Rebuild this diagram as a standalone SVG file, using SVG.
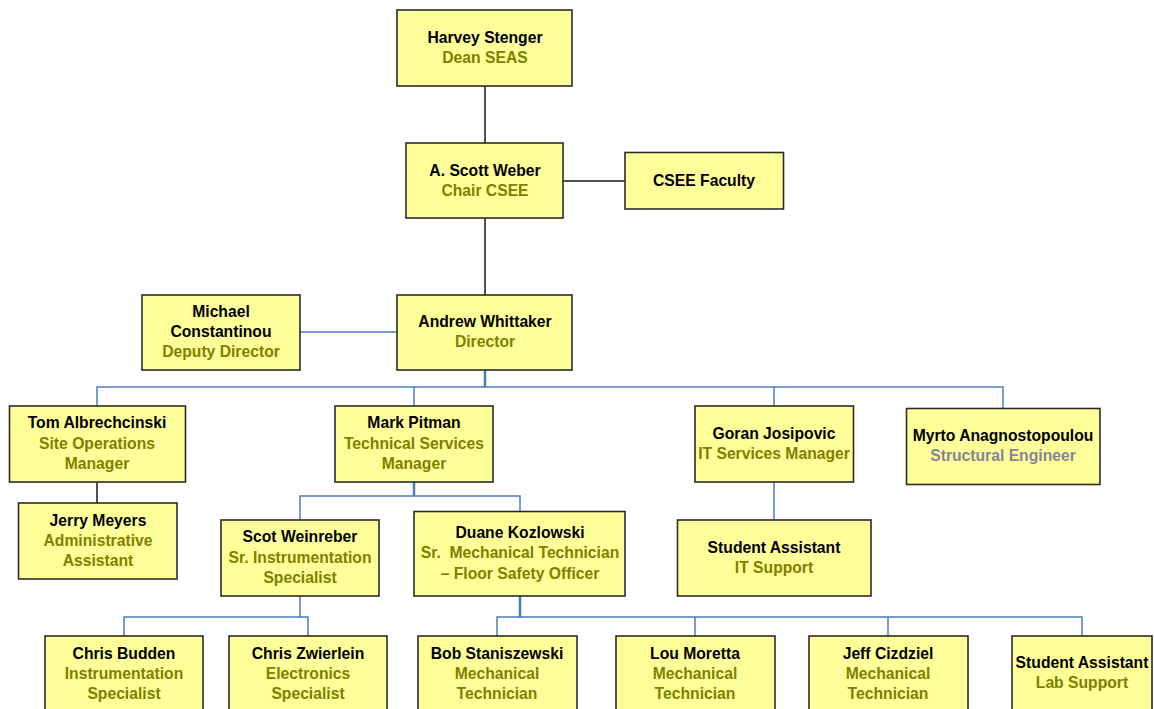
<svg xmlns="http://www.w3.org/2000/svg" width="1154" height="709" viewBox="0 0 1154 709">
<style>
.box{fill:#ffff99;stroke:#2b2b2b;stroke-width:1.6}
text{font-family:"Liberation Sans",Arial,sans-serif;font-weight:bold;font-size:15.7px;text-anchor:middle;white-space:pre}
.n{fill:#000}
.t{fill:#808000}
.g{fill:#858596}
.k{stroke:#1a1a1a;stroke-width:1.5;fill:none}
.b{stroke:#4a7ebb;stroke-width:1.5;fill:none}
.bb{stroke:#4a7ebb;stroke-width:2.5;fill:none}
</style>
<rect width="1154" height="709" fill="#fff"/>
<g id="connectors">
<path class="k" d="M485 86V143M563 181H625M485 218V295M97 482V503"/>
<path class="b" d="M300 332H397"/>
<path class="bb" d="M485 370V387"/>
<path class="b" d="M97 406V387H1003V408M414 387V406M774 387V406"/>
<path class="b" d="M774 482V520"/>
<path class="bb" d="M414 482V496"/>
<path class="b" d="M300 520V496H520V512"/>
<path class="b" d="M300 596V617M124 636V617H308V636"/>
<path class="bb" d="M520 596V617"/>
<path class="b" d="M497 636V617H1082V636M695 617V636M888 617V636"/>
</g>
<g id="harvey"><rect class="box" x="397" y="10" width="175" height="76"/><text x="485" y="43" class="n">Harvey Stenger</text><text x="485" y="63" class="t">Dean SEAS</text></g>
<g id="weber"><rect class="box" x="406" y="143" width="157" height="75"/><text x="485" y="176" class="n">A. Scott Weber</text><text x="485" y="196" class="t">Chair CSEE</text></g>
<g id="csee"><rect class="box" x="625" y="152.5" width="158.5" height="56.5"/><text x="704" y="186" class="n">CSEE Faculty</text></g>
<g id="michael"><rect class="box" x="142" y="295" width="158" height="75"/><text x="221" y="317" class="n">Michael</text><text x="221" y="337" class="n">Constantinou</text><text x="221" y="357" class="t">Deputy Director</text></g>
<g id="andrew"><rect class="box" x="397" y="295" width="175" height="75"/><text x="485" y="327" class="n">Andrew Whittaker</text><text x="485" y="347" class="t">Director</text></g>
<g id="tom"><rect class="box" x="9.5" y="406" width="176" height="76"/><text x="97" y="428" class="n">Tom Albrechcinski</text><text x="97" y="448.5" class="t">Site Operations</text><text x="97" y="469" class="t">Manager</text></g>
<g id="jerry"><rect class="box" x="18.5" y="503" width="158.5" height="76"/><text x="98" y="526" class="n">Jerry Meyers</text><text x="98" y="546" class="t">Administrative</text><text x="98" y="566" class="t">Assistant</text></g>
<g id="mark"><rect class="box" x="335" y="406" width="158" height="76"/><text x="414" y="428" class="n">Mark Pitman</text><text x="414" y="448.5" class="t">Technical Services</text><text x="414" y="469" class="t">Manager</text></g>
<g id="scot"><rect class="box" x="221" y="520" width="158" height="76"/><text x="300" y="542" class="n">Scot Weinreber</text><text x="300" y="562.5" class="t">Sr. Instrumentation</text><text x="300" y="583" class="t">Specialist</text></g>
<g id="duane"><rect class="box" x="414" y="511.5" width="211" height="84.5"/><text x="520" y="538" class="n">Duane Kozlowski</text><text x="520" y="558" class="t">Sr.  Mechanical Technician</text><text x="520" y="578.5" class="t">– Floor Safety Officer</text></g>
<g id="goran"><rect class="box" x="695" y="406" width="158.5" height="76"/><text x="774" y="438.5" class="n">Goran Josipovic</text><text x="774" y="459" class="t">IT Services Manager</text></g>
<g id="myrto"><rect class="box" x="906.5" y="408.5" width="193.5" height="76"/><text x="1003" y="441" class="n">Myrto Anagnostopoulou</text><text x="1003" y="461" class="g">Structural Engineer</text></g>
<g id="student-it"><rect class="box" x="677.5" y="520" width="193.5" height="76"/><text x="774" y="552.5" class="n">Student Assistant</text><text x="774" y="572.5" class="t">IT Support</text></g>
<g id="budden"><rect class="box" x="45" y="636" width="158" height="80"/><text x="124" y="658.5" class="n">Chris Budden</text><text x="124" y="679" class="t">Instrumentation</text><text x="124" y="699" class="t">Specialist</text></g>
<g id="zwierlein"><rect class="box" x="229" y="636" width="158" height="80"/><text x="308" y="658.5" class="n">Chris Zwierlein</text><text x="308" y="679" class="t">Electronics</text><text x="308" y="699" class="t">Specialist</text></g>
<g id="bob"><rect class="box" x="418" y="636" width="159" height="80"/><text x="497" y="658.5" class="n">Bob Staniszewski</text><text x="497" y="679" class="t">Mechanical</text><text x="497" y="699" class="t">Technician</text></g>
<g id="lou"><rect class="box" x="616" y="636" width="159" height="80"/><text x="695" y="658.5" class="n">Lou Moretta</text><text x="695" y="679" class="t">Mechanical</text><text x="695" y="699" class="t">Technician</text></g>
<g id="jeff"><rect class="box" x="809" y="636" width="159" height="80"/><text x="888" y="658.5" class="n">Jeff Cizdziel</text><text x="888" y="679" class="t">Mechanical</text><text x="888" y="699" class="t">Technician</text></g>
<g id="student-lab"><rect class="box" x="1012" y="636" width="140" height="80"/><text x="1082" y="667.5" class="n">Student Assistant</text><text x="1082" y="688" class="t">Lab Support</text></g>
</svg>
